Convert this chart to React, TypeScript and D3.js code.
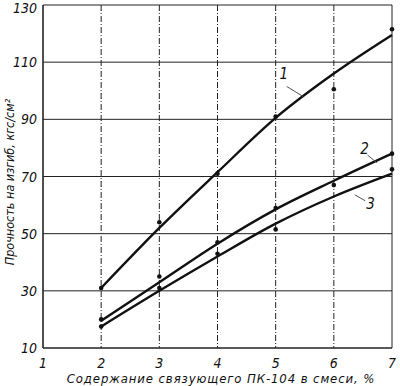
import React from 'react';
import * as d3 from 'd3';

// содержание связующего, %
const xTicks = [1, 2, 3, 4, 5, 6, 7];
const yTicks = [10, 30, 50, 70, 90, 110, 130];

// сглаженные кривые (значения кривой в узлах)
const curveX = [2, 3, 4, 5, 6, 7];
const curve1 = [31, 52, 71.5, 90.5, 106, 119.5];
const curve2 = [19.5, 33, 46.5, 58.5, 68.5, 78];
const curve3 = [17.5, 30, 42, 53.5, 63, 71];

// экспериментальные точки
const pts1X = [2, 3, 4, 5, 6, 7];
const pts1Y = [31, 54, 71, 91, 100.5, 121.5];
const pts2X = [2, 3, 4, 5, 6, 7];
const pts2Y = [20, 35, 47, 59, 67, 78];
const pts3X = [2, 3, 4, 5, 7];
const pts3Y = [17.5, 31, 43, 51.5, 72.5];

const curveLabels = ['1', '2', '3'];

const width = 400;
const height = 386;
const margin = { top: 5, right: 8, bottom: 38, left: 43 };

const font = "'DejaVu Sans Condensed', 'DejaVu Sans', sans-serif";

export default function App() {
  const x = d3.scaleLinear().domain([1, 7]).range([margin.left, width - margin.right]);
  const y = d3.scaleLinear().domain([10, 130]).range([height - margin.bottom, margin.top]);

  const line = d3.line<number>()
    .curve(d3.curveMonotoneX)
    .x((d, i) => x(curveX[i]))
    .y(d => y(d));

  const curves = [curve1, curve2, curve3];
  const points = [
    pts1X.map((v, i) => [v, pts1Y[i]]),
    pts2X.map((v, i) => [v, pts2Y[i]]),
    pts3X.map((v, i) => [v, pts3Y[i]]),
  ];

  // позиции подписей кривых (в единицах данных) и выносок
  const labelPos = [
    { tx: 5.14, ty: 104, lx1: 5.19, ly1: 101.5, lx2: 5.47, ly2: 98 },
    { tx: 6.53, ty: 78, lx1: 6.58, ly1: 77.5, lx2: 6.74, ly2: 74.8 },
    { tx: 6.63, ty: 58.6, lx1: 6.36, ly1: 63.6, lx2: 6.54, ly2: 61.5 },
  ];

  const x0 = x(1), x1 = x(7), y0 = y(10), y1 = y(130);

  return (
    <svg width={width} height={height} style={{ position: 'absolute', left: 0, top: 0, background: '#fff' }}>
      <g stroke="#222" fill="none">
        {xTicks.slice(1, -1).map(t => (
          <line key={'vx' + t} x1={x(t)} x2={x(t)} y1={y1} y2={y0} strokeWidth={1} strokeDasharray="6,2,1,2" />
        ))}
        {yTicks.slice(1, -1).map(t => (
          <line key={'hy' + t} x1={x0} x2={x1} y1={y(t)} y2={y(t)} strokeWidth={1} />
        ))}
        <line x1={x0} x2={x1} y1={y1} y2={y1} strokeWidth={1} />
        <line x1={x1} x2={x1} y1={y1} y2={y0} strokeWidth={1} />
        <line x1={x0} x2={x0} y1={y1} y2={y0} strokeWidth={1.6} />
        <line x1={x0} x2={x1} y1={y0} y2={y0} strokeWidth={1.6} />
      </g>

      {curves.map((c, i) => (
        <path key={'c' + i} d={line(c) || ''} fill="none" stroke="#111" strokeWidth={2.4} />
      ))}
      {points.map((p, i) => p.map(([px, py], j) => (
        <circle key={'p' + i + '-' + j} cx={x(px)} cy={y(py)} r={2.3} fill="#111" />
      )))}

      {labelPos.map((l, i) => (
        <g key={'l' + i}>
          <line x1={x(l.lx1)} y1={y(l.ly1)} x2={x(l.lx2)} y2={y(l.ly2)} stroke="#555" strokeWidth={1} />
          <text x={x(l.tx)} y={y(l.ty)} fontFamily={font} fontStyle="italic" fontSize={15} textAnchor="middle" fill="#111">{curveLabels[i]}</text>
        </g>
      ))}

      <g fontFamily={font} fontStyle="italic" fill="#111">
        {xTicks.map(t => (
          <text key={'xt' + t} x={x(t)} y={y0 + 20} fontSize={14} textAnchor="middle">{t}</text>
        ))}
        {yTicks.map(t => (
          <text key={'yt' + t} x={x0 - 6} y={Math.max(y(t) + 5, 13)} fontSize={14} textAnchor="end">{t}</text>
        ))}
        <text x={221} y={383} fontSize={13} letterSpacing={0.9} textAnchor="middle">Содержание связующего ПК-104 в смеси, %</text>
        <text transform={`translate(14,${182}) rotate(-90)`} fontSize={12.5} textAnchor="middle">Прочность на изгиб, кгс/см²</text>
      </g>
    </svg>
  );
}
